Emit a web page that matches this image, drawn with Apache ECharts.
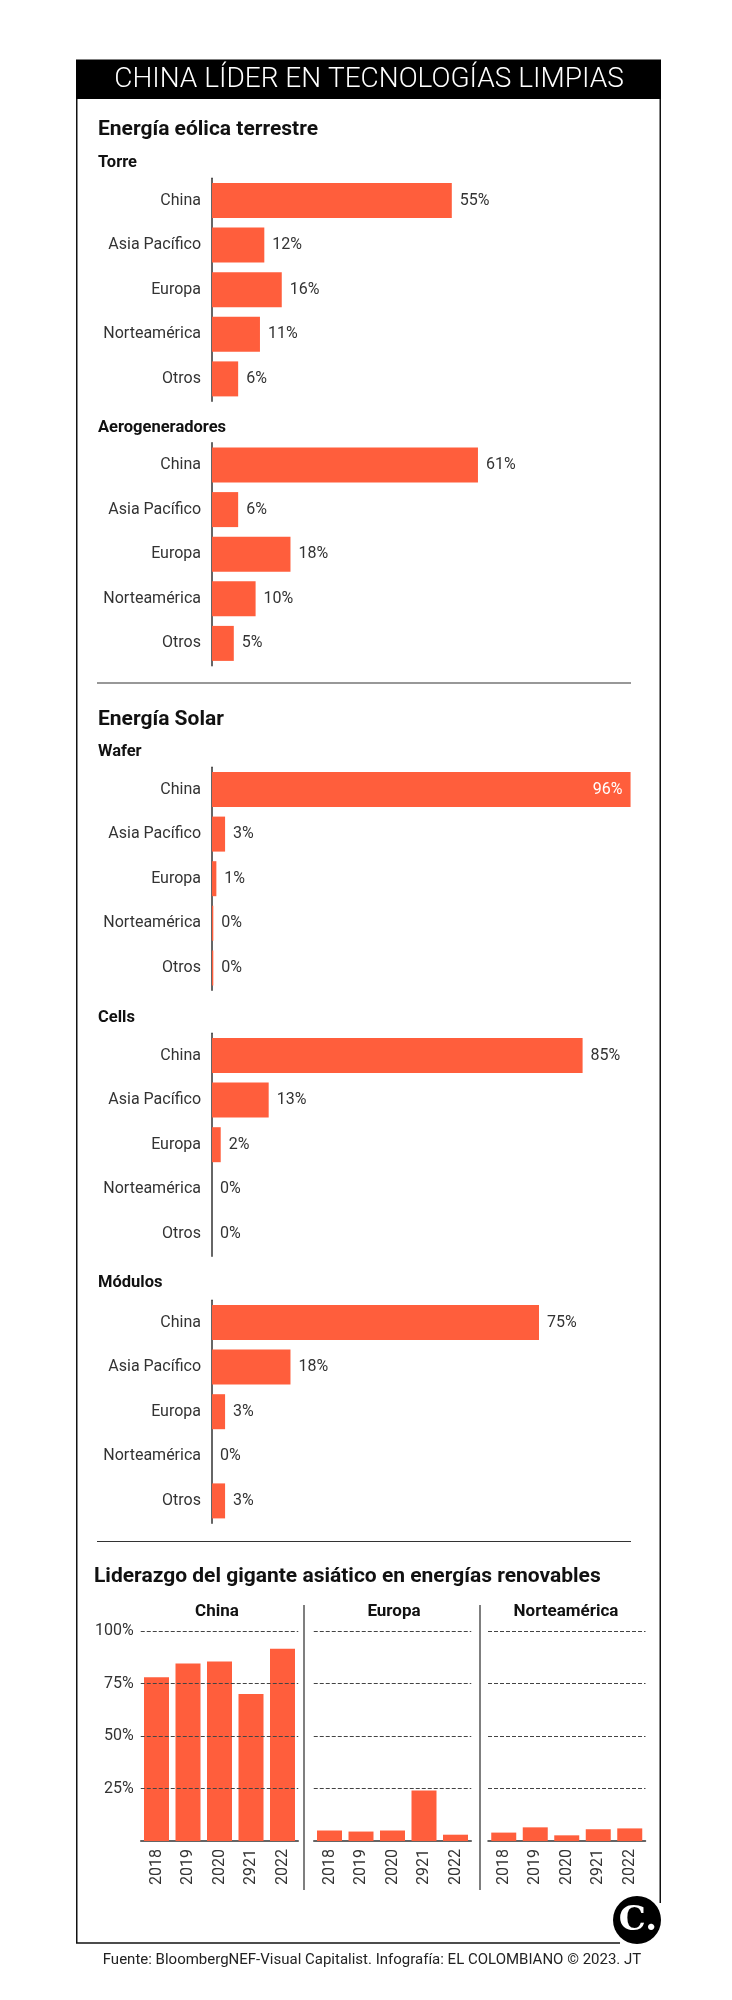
<!DOCTYPE html>
<html>
<head>
<meta charset="utf-8">
<script src="https://cdn.jsdelivr.net/npm/echarts@6/dist/echarts.min.js"></script>
<style>
  html, body { margin: 0; padding: 0; background: #fff; }
  #c { width: 732px; height: 2000px; }
</style>
</head>
<body>
<div id="c"></div>
<script>
// ---- data ----
const regions = ['China', 'Asia Pacífico', 'Europa', 'Norteamérica', 'Otros'];
const torre = [55, 12, 16, 11, 6];
const aerogeneradores = [61, 6, 18, 10, 5];
const wafer = [96, 3, 1, 0.3, 0.3];
const cells = [85, 13, 2, 0, 0];
const modulos = [75, 18, 3, 0, 3];

const years = ['2018', '2019', '2020', '2921', '2022'];
const chinaShare = [78, 84.5, 85.5, 70, 91.5];
const europaShare = [5, 4.5, 5, 24, 3];
const norteShare = [4, 6.5, 2.7, 5.6, 6];
const shareTicks = [25, 50, 75, 100];
const panelNames = ['China', 'Europa', 'Norteamérica'];

// ---- styling ----
const BAR = '#ff5e3c';
const TXT = '#333';
const FONT = 'Roboto, "Noto Sans", sans-serif';

const chart = echarts.init(document.getElementById('c'), null, { width: 732, height: 2000 });

const grids = [], xAxes = [], yAxes = [], series = [];

function hbar(top, values) {
  const i = grids.length;
  grids.push({ left: 212, width: 436, top: top, height: 223 });
  xAxes.push({ type: 'value', gridIndex: i, min: 0, max: 100, show: false });
  yAxes.push({
    type: 'category', gridIndex: i, data: regions, inverse: true,
    axisLine: { show: true, lineStyle: { color: '#333', width: 1.5 } },
    axisTick: { show: false },
    axisLabel: { fontSize: 16, color: TXT, margin: 11, fontFamily: FONT }
  });
  series.push({
    type: 'bar', xAxisIndex: i, yAxisIndex: i, barWidth: 35,
    data: values.map(function (v) {
      if (v >= 90) {
        return { value: v, label: { position: 'insideRight', color: '#fff', distance: 8 } };
      }
      return v;
    }),
    itemStyle: { color: BAR },
    label: {
      show: true, position: 'right', distance: 8, fontSize: 16, color: TXT, fontFamily: FONT,
      formatter: function (p) { return Math.round(p.value) + '%'; }
    },
    silent: true, animation: false
  });
}

hbar(178.2, torre);
hbar(442.7, aerogeneradores);
hbar(767.2, wafer);
hbar(1033.2, cells);
hbar(1300.2, modulos);

// vertical bar panels
const panelData = [chinaShare, europaShare, norteShare];
const panelLeft = [140.75, 313.75, 488];
panelData.forEach(function (vals, k) {
  const i = grids.length;
  grids.push({ left: panelLeft[k], width: 157.5, top: 1631, height: 210 });
  xAxes.push({
    type: 'category', gridIndex: i, data: years,
    axisLine: { show: true, lineStyle: { color: '#333', width: 1.5 } },
    axisTick: { show: false },
    axisLabel: { rotate: 90, fontSize: 16, color: TXT, margin: 8, fontFamily: FONT }
  });
  yAxes.push({
    type: 'value', gridIndex: i, min: 0, max: 100, interval: 25,
    splitLine: { show: false }, axisLine: { show: false }, axisTick: { show: false },
    axisLabel: {
      show: k === 0, fontSize: 16, color: TXT, margin: 7, fontFamily: FONT,
      formatter: function (v) { return v === 0 ? '' : v + '%'; }
    }
  });
  series.push({
    type: 'bar', xAxisIndex: i, yAxisIndex: i, barWidth: 25, data: vals,
    itemStyle: { color: BAR }, silent: true, animation: false,
    markLine: {
      silent: true, symbol: 'none', animation: false,
      label: { show: false },
      lineStyle: { color: '#444', type: [4, 2], width: 1 },
      data: shareTicks.map(function (t) { return { yAxis: t }; })
    }
  });
});

function txt(text, x, y, font, opts) {
  opts = opts || {};
  return {
    type: 'text', silent: true,
    style: {
      text: text, x: x, y: y, font: font, fill: opts.fill || '#111',
      textAlign: opts.align || 'left', textVerticalAlign: 'middle', verticalAlign: 'middle'
    }
  };
}
function line(x1, y1, x2, y2, w, c) {
  return { type: 'line', silent: true, shape: { x1: x1, y1: y1, x2: x2, y2: y2 },
    style: { stroke: c || '#111', lineWidth: w || 1.5 } };
}

const B = 'bold ';
const graphics = [
  { type: 'rect', silent: true, shape: { x: 76, y: 59.5, width: 585, height: 39.5 }, style: { fill: '#000' } },
  txt('CHINA LÍDER EN TECNOLOGÍAS LIMPIAS', 369, 80, '300 28px ' + FONT, { fill: '#fff', align: 'center' }),
  line(76.75, 99, 76.75, 1943),
  line(76, 1943, 620, 1943),
  line(660.25, 99, 660.25, 1903),

  txt('Energía eólica terrestre', 98, 130, B + '21px ' + FONT),
  txt('Torre', 98, 163, B + '16.5px ' + FONT),
  txt('Aerogeneradores', 98, 428, B + '16.5px ' + FONT),
  line(97, 683, 631, 683, 1.2, '#333'),
  txt('Energía Solar', 98, 720, B + '21px ' + FONT),
  txt('Wafer', 98, 752, B + '16.5px ' + FONT),
  txt('Cells', 98, 1018, B + '16.5px ' + FONT),
  txt('Módulos', 98, 1283, B + '16.5px ' + FONT),
  line(97, 1541.5, 631, 1541.5, 1.2, '#333'),
  txt('Liderazgo del gigante asiático en energías renovables', 94, 1577, B + '21px ' + FONT),

  txt(panelNames[0], 217, 1612, B + '17px ' + FONT, { align: 'center' }),
  txt(panelNames[1], 394, 1612, B + '17px ' + FONT, { align: 'center' }),
  txt(panelNames[2], 566, 1612, B + '17px ' + FONT, { align: 'center' }),
  line(304, 1605, 304, 1890, 1.5, '#555'),
  line(480, 1605, 480, 1890, 1.5, '#555'),

  { type: 'circle', silent: true, shape: { cx: 637, cy: 1920, r: 24 }, style: { fill: '#000' } },
  txt('C.', 638, 1921, 'bold 34px "DejaVu Serif", "Liberation Serif", serif', { fill: '#fff', align: 'center' }),

  txt('Fuente: BloombergNEF-Visual Capitalist. Infografía: EL COLOMBIANO © 2023. JT', 372, 1960,
      '15px ' + FONT, { fill: '#222', align: 'center' })
];

chart.setOption({
  animation: false,
  backgroundColor: '#fff',
  grid: grids,
  xAxis: xAxes,
  yAxis: yAxes,
  series: series,
  graphic: { elements: graphics }
});
</script>
</body>
</html>
